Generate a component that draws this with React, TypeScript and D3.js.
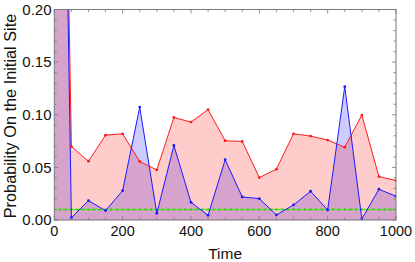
import React from "react";
import * as d3 from "d3";

const times = [0, 50, 100, 150, 200, 250, 300, 350, 400, 450, 500, 550, 600, 650, 700, 750, 800, 850, 900, 950, 1000];
const redValues = [1, 0.0698, 0.0559, 0.0806, 0.0819, 0.0556, 0.0476, 0.0974, 0.093, 0.1048, 0.0753, 0.0746, 0.0403, 0.0483, 0.0819, 0.0797, 0.0759, 0.0692, 0.0997, 0.0413, 0.0375];
const blueValues = [1, 0.0022, 0.0184, 0.0089, 0.0279, 0.1073, 0.0063, 0.0708, 0.0168, 0.0044, 0.0573, 0.0219, 0.0203, 0.0048, 0.0143, 0.0273, 0.0095, 0.1267, 0.001, 0.0292, 0.0226];
const thresholdValue = 0.01;
const xTickLabels = [0, 200, 400, 600, 800, 1000];
const yTickLabels = [0, 0.05, 0.1, 0.15, 0.2];

const W = 415, H = 262;
const left = 54.3, right = 396, top = 9.5, bottom = 220;

export default function App() {
  const x = d3.scaleLinear().domain([0, 1000]).range([left, right]);
  const y = d3.scaleLinear().domain([0, 0.2]).range([bottom, top]);

  const redPts = times.map((t, i) => [t, redValues[i]] as [number, number]);
  const bluePts = times.map((t, i) => [t, blueValues[i]] as [number, number]);

  const area = d3.area<[number, number]>().x(d => x(d[0])).y0(y(0)).y1(d => y(d[1]));
  const line = d3.line<[number, number]>().x(d => x(d[0])).y(d => y(d[1]));

  const xMinor = d3.range(0, 1001, 50);
  const yMinor = d3.range(0, 0.2001, 0.01);
  const greenDots = d3.range(0, 1001, 1000 / 60);

  const font = "'Liberation Sans', Arial, sans-serif";
  const frame = "#777";

  return (
    <svg width={W} height={H} style={{ position: "absolute", left: 0, top: 0 }} fontFamily={font}>
      <defs>
        <clipPath id="plotClip">
          <rect x={left} y={top} width={right - left} height={bottom - top} />
        </clipPath>
      </defs>
      <rect x={0} y={0} width={W} height={H} fill="white" />
      <g clipPath="url(#plotClip)">
        <path d={area(bluePts) || ""} fill="rgba(0,0,255,0.2)" />
        <path d={area(redPts) || ""} fill="rgba(255,0,0,0.2)" />
        <line x1={x(0)} x2={x(1000)} y1={y(thresholdValue)} y2={y(thresholdValue)} stroke="#66dd33" strokeWidth={1.3} />
        {greenDots.map((t, i) => (
          <circle key={"g" + i} cx={x(t)} cy={y(thresholdValue)} r={1} fill="#33bb22" />
        ))}
        <path d={line(redPts) || ""} fill="none" stroke="#ff1a1a" strokeWidth={1} />
        <path d={line(bluePts) || ""} fill="none" stroke="#1a1aff" strokeWidth={1} />
        {redPts.map((d, i) => (
          <circle key={"r" + i} cx={x(d[0])} cy={y(d[1])} r={1.4} fill="#ff1a1a" />
        ))}
        {bluePts.map((d, i) => (
          <circle key={"b" + i} cx={x(d[0])} cy={y(d[1])} r={1.4} fill="#1a1aff" />
        ))}
      </g>
      <rect x={left} y={top} width={right - left} height={bottom - top} fill="none" stroke={frame} strokeWidth={1} />
      {xMinor.map((t, i) => {
        const major = t % 200 === 0;
        const len = major ? 4 : 2.5;
        return (
          <g key={"xt" + i} stroke={frame} strokeWidth={0.8}>
            <line x1={x(t)} x2={x(t)} y1={bottom} y2={bottom - len} />
            <line x1={x(t)} x2={x(t)} y1={top} y2={top + len} />
          </g>
        );
      })}
      {yMinor.map((v, i) => {
        const major = i % 5 === 0;
        const len = major ? 4 : 2.5;
        return (
          <g key={"yt" + i} stroke={frame} strokeWidth={0.8}>
            <line x1={left} x2={left + len} y1={y(v)} y2={y(v)} />
            <line x1={right} x2={right - len} y1={y(v)} y2={y(v)} />
          </g>
        );
      })}
      {xTickLabels.map((t, i) => (
        <text key={"xl" + i} x={x(t)} y={235.5} textAnchor="middle" fontSize={14.5} fill="#111">{t}</text>
      ))}
      {yTickLabels.map((v, i) => (
        <text key={"yl" + i} x={51.5} y={y(v) + 5.2} textAnchor="end" fontSize={15} fill="#111">{v.toFixed(2)}</text>
      ))}
      <text x={(left + right) / 2} y={258.5} textAnchor="middle" fontSize={15.5} fill="#111">Time</text>
      <text transform={`translate(16, 116) rotate(-90)`} textAnchor="middle" fontSize={16.3} fill="#111">Probability On the Initial Site</text>
    </svg>
  );
}
